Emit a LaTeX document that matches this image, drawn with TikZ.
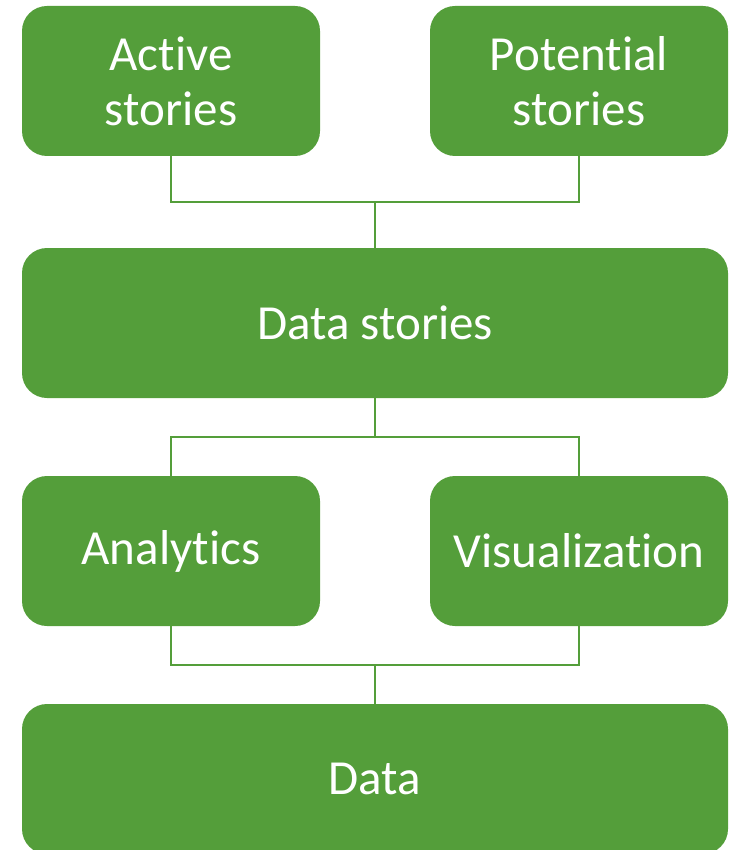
\documentclass[tikz,border=0pt]{standalone}
\usepackage{fontspec}
\setmainfont{Carlito}[Ligatures=NoCommon]
\usetikzlibrary{positioning}
\definecolor{leafgreen}{RGB}{84,158,58}

\begin{document}
\begin{tikzpicture}[x=1pt,y=-1pt,
   box/.style={fill=leafgreen,rounded corners=25pt,text=white,align=center,
      minimum height=150pt,inner sep=0pt,font=\fontsize{49}{55}\selectfont},
   smallbox/.style={box,minimum width=298pt},
   widebox/.style={box,minimum width=706pt},
   link/.style={draw=leafgreen,line width=2.5pt}]
\useasboundingbox (0,0) rectangle (730,850);
% top row
\node[smallbox] (active) at (171,81) {Active\\stories};
\node[smallbox] (potential) at (579,81) {Potential\\stories};
\node[widebox] (stories) at (375,323) {Data stories};
% middle row
\node[smallbox] (analytics) at (171,551) {Analytics};
\node[smallbox] (visual) at (579,551) {Visualization};
\node[widebox] (data) at (375,779) {Data};
% junctions
\coordinate (jtop) at (375,202);
\coordinate (jmid) at (375,437);
\coordinate (jlow) at (375,665);
\draw[link] (active.south) |- (jtop) -| (potential.south);
\draw[link] (jtop) -- (stories.north);
\draw[link] (stories.south) -- (jmid);
\draw[link] (analytics.north) |- (jmid) -| (visual.north);
\draw[link] (analytics.south) |- (jlow) -| (visual.south);
\draw[link] (jlow) -- (data.north);
\end{tikzpicture}
\end{document}
